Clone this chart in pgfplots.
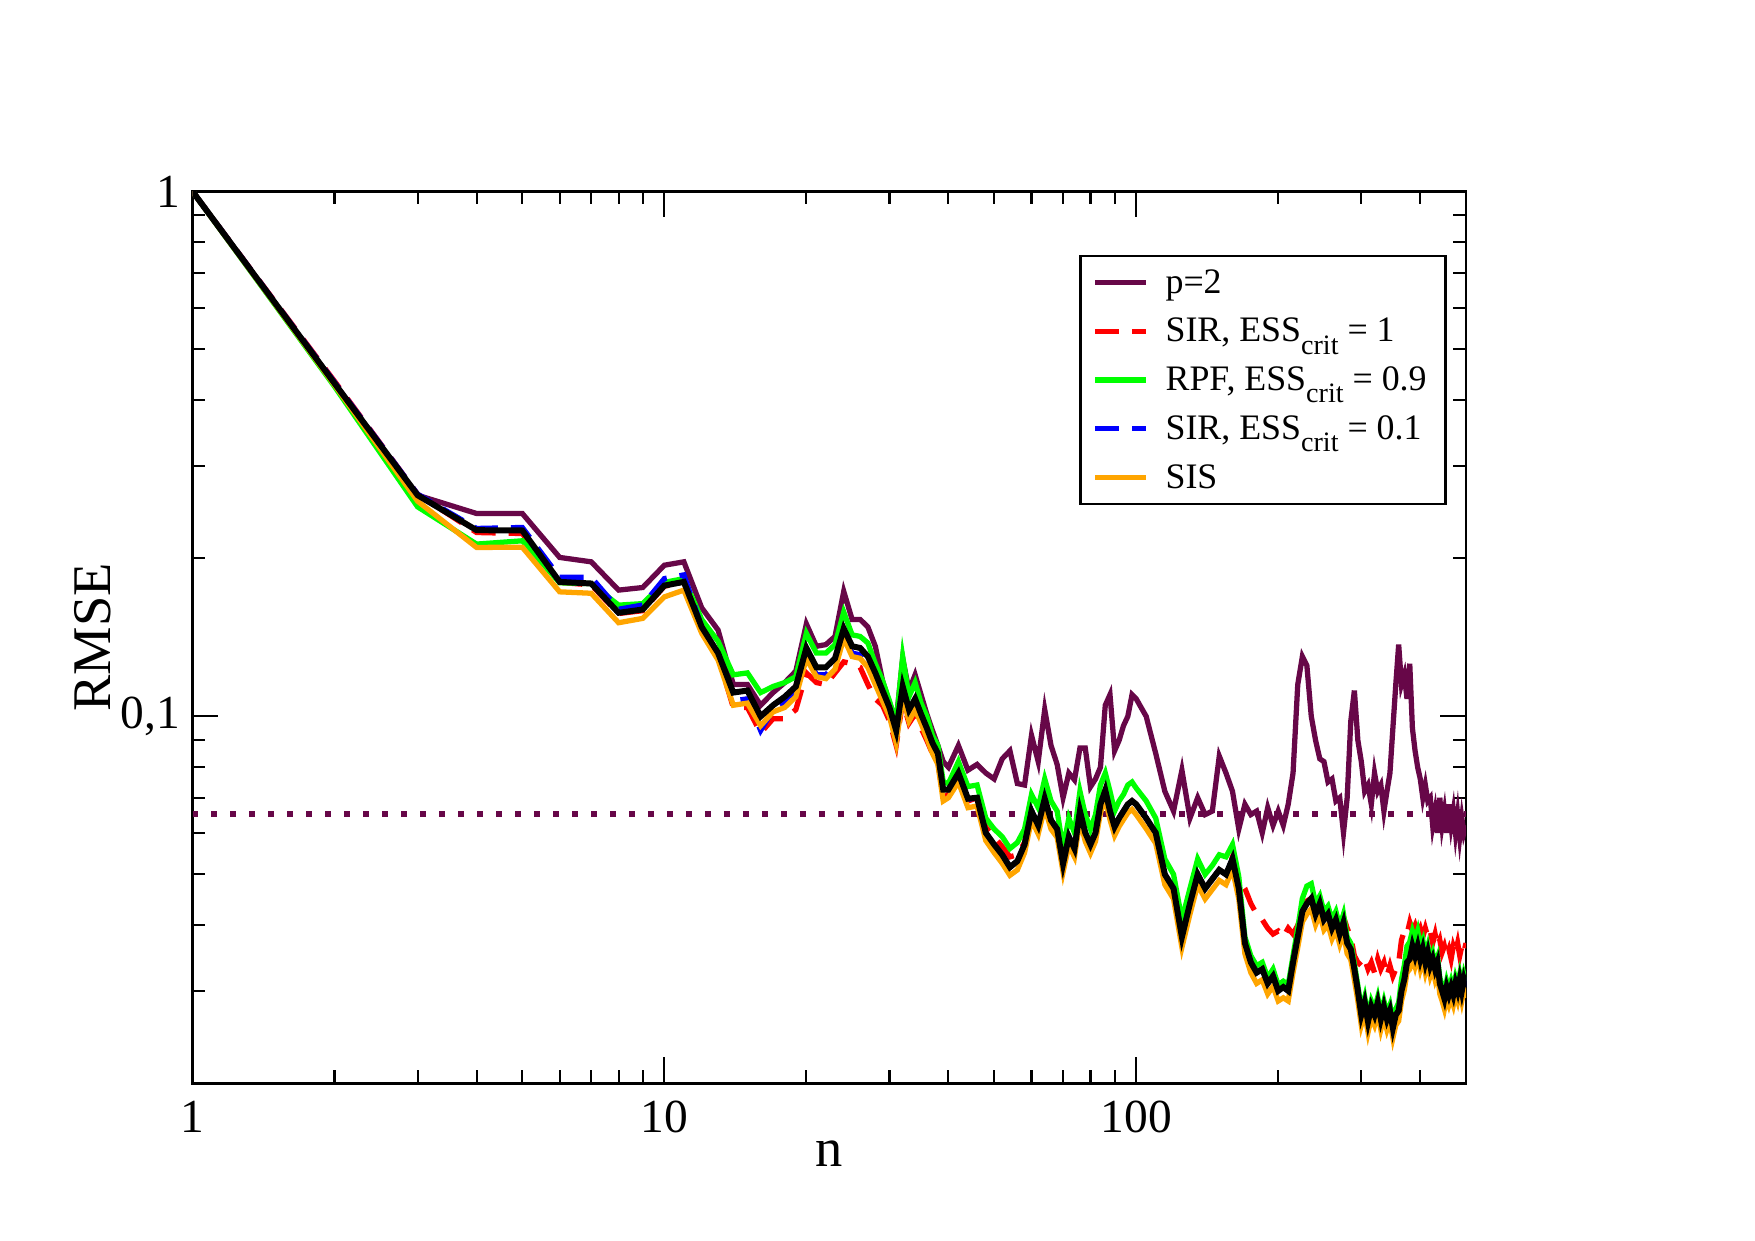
\documentclass[border=0pt]{standalone}
\usepackage{fontspec}
\setmainfont{Liberation Serif}
\usepackage{pgfplots}
\usepackage{pgfplotstable}
\pgfplotsset{compat=1.18}
\definecolor{gmaroon}{RGB}{103,7,72}
\definecolor{gorange}{RGB}{255,165,0}
\definecolor{ggreen}{RGB}{0,255,0}
\definecolor{gred}{RGB}{255,0,0}
\definecolor{gblue}{RGB}{0,0,255}
\newcommand{\crit}{\raisebox{-0.34em}{\fontsize{8}{8}\selectfont crit}}

\pgfplotstableread{
n purple red green blue orange black
1 1 1 1 1 1 1
2 .431 .435 .425 .433 .428 .431
3 .2638 .265 .2507 .265 .257 .2638
4 .2435 .224 .2129 .228 .2098 .2263
5 .2435 .223 .216 .229 .210 .2260
6 .2008 .180 .1797 .184 .1727 .1804
7 .1970 .178 .179 .184 .1716 .1791
8 .1740 .157 .1629 .160 .1508 .1575
9 .1760 .159 .164 .163 .1537 .1598
10 .1941 .177 .180 .183 .1689 .1775
11 .1970 .180 .183 .186 .1740 .1804
12 .161 .147 .153 .148 .144 .148
13 .146 .130 .139 .131 .128 .132
14 .115 .104 .120 .107 .105 .111
15 .115 .104 .121 .108 .106 .112
16 .105 .093 .111 .094 .096 .100
17 .111 .099 .114 .103 .102 .105
18 .116 .099 .116 .106 .104 .109
19 .122 .103 .119 .111 .109 .114
20 .150 .121 .144 .132 .129 .135
21 .136 .116 .132 .120 .119 .124
22 .137 .115 .132 .120 .118 .124
23 .142 .121 .137 .125 .123 .129
24 .173 .127 .158 .143 .141 .147
25 .153 .126 .143 .132 .130 .136
26 .153 .124 .142 .131 .129 .135
27 .148 .115 .138 .126 .124 .130
28 .136 .108 .126 .117 .115 .121
29 .117 .105 .117 .108 .107 .112
30 .106 .098 .107 .101 .100 .104
31 .098 .088 .097 .090 .089 .094
32 .129 .107 .130 .110 .109 .114
33 .112 .097 .109 .099 .098 .103
34 .120 .101 .116 .104 .103 .108
35 .110 .095 .106 .098 .097 .101
36 .101 .090 .100 .092 .091 .095
37 .094 .085 .092 .086 .085 .089
38 .088 .082 .088 .082 .081 .085
39 .082 .070 .075 .071 .069 .0725
40 .0800 .0710 .0745 .0720 .0700 .0725
42 .0880 .0770 .0820 .0775 .0750 .0780
44 .0790 .0690 .0735 .0695 .0670 .0697
46 .0810 .0700 .0740 .0700 .0675 .0700
48 .0780 .0615 .0640 .0600 .0580 .0600
50 .0760 .0590 .0610 .0570 .0550 .0570
52 .0830 .0565 .0590 .0545 .0525 .0545
54 .0860 .0540 .0560 .0516 .0498 .0516
56 .0745 .0545 .0575 .0530 .0510 .0530
58 .0740 .0575 .0610 .0570 .0550 .0570
60 .0920 .0660 .0710 .0660 .0635 .0660
62 .0820 .0620 .0670 .0620 .0597 .0620
64 .1030 .0697 .0760 .0697 .0670 .0697
66 .0880 .0634 .0690 .0634 .0610 .0634
68 .0810 .0610 .0660 .0610 .0588 .0610
70 .0700 .0524 .0560 .0524 .0505 .0524
72 .0780 .0590 .0640 .0590 .0568 .0590
74 .0757 .0560 .0600 .0560 .0540 .0560
76 .0870 .0660 .0720 .0660 .0635 .0660
78 .0870 .0600 .0650 .0600 .0578 .0600
80 .0734 .0570 .0610 .0570 .0549 .0570
82 .0760 .0600 .0650 .0600 .0578 .0600
84 .0800 .0680 .0740 .0680 .0655 .0680
86 .1050 .0723 .0780 .0723 .0697 .0723
88 .1100 .0660 .0720 .0660 .0636 .0660
90 .0860 .0616 .0660 .0616 .0593 .0616
92 .0900 .0640 .0690 .0640 .0617 .0640
94 .0960 .0660 .0710 .0660 .0636 .0660
96 .1000 .0680 .0740 .0680 .0655 .0680
98 .1100 .0690 .0750 .0690 .0665 .0690
100 .1080 .0680 .0730 .0680 .0650 .0680
105 .1000 .0640 .0690 .0640 .0611 .0640
110 .0850 .0600 .0640 .0600 .0573 .0600
115 .0720 .0500 .0535 .0500 .0478 .0500
120 .0660 .0470 .0500 .0470 .0449 .0470
125 .0790 .0380 .0410 .0380 .0363 .0380
130 .0640 .0440 .0470 .0440 .0420 .0440
135 .0700 .0500 .0535 .0500 .0478 .0500
140 .0650 .0470 .0500 .0470 .0449 .0470
145 .0660 .0490 .0520 .0490 .0468 .0490
150 .0840 .0510 .0545 .0510 .0487 .0510
155 .0780 .0500 .0540 .0500 .0478 .0500
160 .0720 .0540 .0570 .0535 .0511 .0535
165 .0610 .0490 .0495 .0470 .0449 .0470
170 .0680 .0470 .0380 .0370 .0353 .0370
175 .0650 .0440 .0350 .0340 .0325 .0340
180 .0660 .0420 .0335 .0325 .0310 .0325
185 .0600 .0410 .0340 .0330 .0315 .0330
190 .0670 .0395 .0318 .0310 .0296 .0310
195 .0620 .0385 .0330 .0320 .0306 .0320
200 .0660 .0390 .0308 .0300 .0287 .0300
205 .0620 .0380 .0313 .0305 .0291 .0305
210 .0680 .0395 .0308 .0300 .0287 .0300
215 .0780 .0385 .0350 .0340 .0325 .0340
220 .1150 .0400 .0395 .0380 .0363 .0380
225 .1300 .0430 .0450 .0425 .0406 .0425
230 .1250 .0445 .0475 .0440 .0420 .0440
235 .1000 .0450 .0480 .0450 .0430 .0450
240 .0900 .0430 .0440 .0420 .0401 .0420
245 .0830 .0440 .0455 .0440 .0420 .0440
250 .0820 .0420 .0425 .0410 .0392 .0410
255 .0750 .0425 .0435 .0420 .0401 .0420
260 .0760 .0410 .0410 .0395 .0377 .0395
265 .0690 .0420 .0425 .0410 .0392 .0410
270 .0700 .0405 .0398 .0385 .0368 .0385
275 .0600 .0415 .0420 .0405 .0387 .0405
280 .0700 .0395 .0380 .0370 .0353 .0370
285 .0980 .0380 .0370 .0360 .0344 .0360
290 .1120 .0350 .0338 .0330 .0315 .0330
295 .0900 .0340 .0307 .0300 .0287 .0300
300 .0820 .0335 .0276 .0270 .0258 .0270
305 .0720 .0345 .0292 .0285 .0272 .0285
310 .0740 .0330 .0268 .0262 .0250 .0262
315 .0680 .0340 .0287 .0280 .0267 .0280
320 .0780 .0325 .0277 .0270 .0258 .0270
325 .0720 .0345 .0292 .0285 .0272 .0285
330 .0740 .0330 .0272 .0265 .0253 .0265
335 .0660 .0340 .0287 .0280 .0267 .0280
340 .0720 .0320 .0272 .0265 .0253 .0265
345 .0780 .0335 .0282 .0275 .0263 .0275
350 .0950 .0320 .0262 .0255 .0244 .0255
355 .1150 .0330 .0277 .0270 .0258 .0270
360 .1370 .0340 .0285 .0275 .0263 .0275
365 .1150 .0375 .0315 .0300 .0287 .0300
370 .1200 .0390 .0335 .0315 .0301 .0315
375 .1080 .0385 .0365 .0340 .0325 .0340
380 .1260 .0405 .0372 .0345 .0330 .0345
385 .0950 .0390 .0390 .0365 .0349 .0365
390 .0860 .0400 .0375 .0350 .0334 .0350
395 .0800 .0385 .0390 .0365 .0349 .0365
400 .0760 .0395 .0365 .0345 .0330 .0345
405 .0700 .0380 .0375 .0360 .0344 .0360
410 .0740 .0395 .0350 .0340 .0325 .0340
415 .0690 .0380 .0365 .0355 .0339 .0355
420 .0700 .0390 .0345 .0335 .0320 .0335
425 .0620 .0370 .0355 .0345 .0330 .0345
430 .0660 .0385 .0338 .0330 .0315 .0330
435 .0600 .0365 .0348 .0340 .0325 .0340
440 .0700 .0375 .0318 .0310 .0296 .0310
445 .0620 .0355 .0308 .0300 .0287 .0300
450 .0660 .0365 .0298 .0290 .0277 .0290
455 .0600 .0350 .0313 .0305 .0291 .0305
460 .0680 .0360 .0302 .0295 .0282 .0295
465 .0620 .0345 .0313 .0305 .0291 .0305
470 .0660 .0365 .0302 .0295 .0282 .0295
475 .0600 .0355 .0318 .0310 .0296 .0310
480 .0650 .0370 .0308 .0300 .0287 .0300
485 .0590 .0350 .0323 .0315 .0301 .0315
490 .0640 .0365 .0308 .0300 .0287 .0300
495 .0600 .0355 .0323 .0315 .0301 .0315
500 .0620 .0370 .0313 .0305 .0291 .0305
}\data

\begin{document}
\begin{tikzpicture}
\path (0,0) rectangle (17.55,12.40);
\begin{axis}[
  at={(1.925cm,1.567cm)}, anchor=south west,
  scale only axis, width=12.735cm, height=8.919cm,
  xmode=log, ymode=log,
  xmin=1, xmax=500, ymin=0.02, ymax=1,
  xtick={1,10,100}, xticklabels={1,10,100},
  ytick={0.1,1}, yticklabels={{0,1},1},
  minor xtick={2,3,4,5,6,7,8,9,20,30,40,50,60,70,80,90,200,300,400,500},
  minor ytick={0.03,0.04,0.05,0.06,0.07,0.08,0.09,0.2,0.3,0.4,0.5,0.6,0.7,0.8,0.9},
  tick align=inside, tick pos=both,
  major tick length=0.26cm, minor tick length=0.13cm,
  every tick/.style={black, line width=0.6pt},
  axis line style={line width=0.7pt},
  /pgf/number format/assume math mode=true,
  tick label style={font=\fontsize{13.5}{16}\selectfont},
  xticklabel style={yshift=-0.05cm},
  xlabel={n}, ylabel={RMSE},
  label style={font=\fontsize{15.5}{18}\selectfont},
  xlabel style={at={(axis description cs:0.5,-0.0785)}, anchor=center},
  ylabel style={at={(axis description cs:-0.0781,0.5)}, anchor=center, rotate=0},
  legend style={at={(0.985,0.9287)}, anchor=north east, draw=black, line width=0.7pt,
    font=\fontsize{10.2}{11}\selectfont, inner xsep=0.12cm, inner ysep=0.02cm,
    nodes={inner ysep=0pt, text height=0.35cm, text depth=0.137cm},
    /tikz/every odd column/.append style={column sep=0.1cm}},
  legend cell align=left,
  legend image code/.code={\draw[#1] (0cm,0cm) -- (0.507cm,0cm);},
]
\addplot[gmaroon, line width=1.7pt, dash pattern=on 1.7pt off 3.7pt, forget plot] coordinates {(1,0.0652) (500,0.0652)};
\addplot[gmaroon, line width=1.5pt] table[x=n, y=purple] {\data};
\addlegendentry{p=2}
\addplot[gred, line width=1.5pt, dash pattern=on 6.8pt off 3.7pt] table[x=n, y=red] {\data};
\addlegendentry{SIR, ESS\crit{} = 1}
\addplot[ggreen, line width=1.5pt] table[x=n, y=green] {\data};
\addlegendentry{RPF, ESS\crit{} = 0.9}
\addplot[gblue, line width=1.5pt, dash pattern=on 6.8pt off 3.7pt] table[x=n, y=blue] {\data};
\addlegendentry{SIR, ESS\crit{} = 0.1}
\addplot[gorange, line width=1.5pt] table[x=n, y=orange] {\data};
\addlegendentry{SIS}
\addplot[black, line width=1.7pt, forget plot] table[x=n, y=black] {\data};
\end{axis}
\end{tikzpicture}
\end{document}
